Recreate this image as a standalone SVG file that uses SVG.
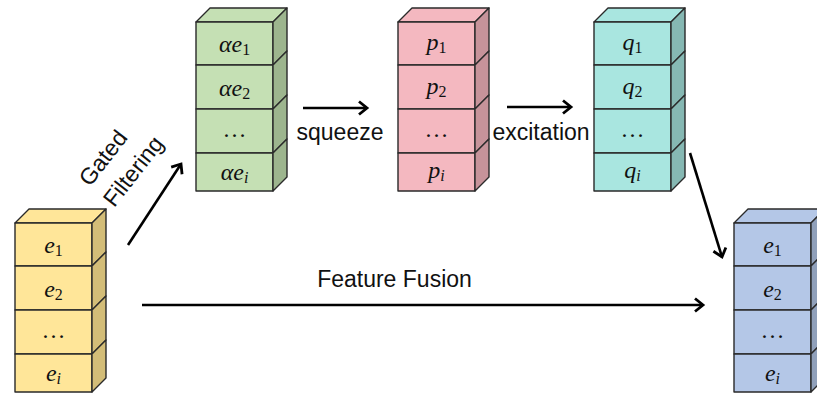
<svg xmlns="http://www.w3.org/2000/svg" width="817" height="394" viewBox="0 0 817 394">
<defs>
<style>
.ln{stroke:#2a2a2a;stroke-width:1.4;stroke-linejoin:round}
.m{font-family:"Liberation Serif","DejaVu Serif",serif;font-style:italic;font-size:24px;fill:#111;text-anchor:middle}
.sub{font-style:normal;font-size:16px}
.subi{font-style:italic;font-size:16px}
.lbl{font-family:"Liberation Sans",Arial,sans-serif;font-size:23px;fill:#111}
.conn{stroke:#000;stroke-width:2.6;fill:none}
.yel .f,.yel .t{fill:#FFE699}.yel .s{fill:#D3BD78}
.grn .f,.grn .t{fill:#C5E0B4}.grn .s{fill:#9DB58E}
.pnk .f,.pnk .t{fill:#F4B8C0}.pnk .s{fill:#C6939A}
.cyn .f,.cyn .t{fill:#A9E6E0}.cyn .s{fill:#86B8B3}
.blu .f,.blu .t{fill:#B4C7E7}.blu .s{fill:#90A0BA}
</style>
<marker id="ah" markerUnits="userSpaceOnUse" markerWidth="20" markerHeight="20" viewBox="-12 -10 16 20" refX="0" refY="0" orient="auto">
<path d="M-8,-6.5 L0,0 L-8,6.5" fill="none" stroke="#000" stroke-width="2.8" stroke-linejoin="miter"/>
</marker>
</defs>
<rect width="817" height="394" fill="#fff"/>

<g id="stack-e" class="yel" transform="translate(15,223)">
<polygon class="t ln" points="0,0 14,-14 91,-14 77,0"/>
<rect class="f ln" x="0" y="0" width="77" height="43"/>
<polygon class="s ln" points="77,0 91,-14 91,29 77,43"/>
<rect class="f ln" x="0" y="43" width="77" height="44"/>
<polygon class="s ln" points="77,43 91,29 91,73 77,87"/>
<rect class="f ln" x="0" y="87" width="77" height="44"/>
<polygon class="s ln" points="77,87 91,73 91,117 77,131"/>
<rect class="f ln" x="0" y="131" width="77" height="38"/>
<polygon class="s ln" points="77,131 91,117 91,155 77,169"/>
<text class="m" x="38.5" y="30">e<tspan class="sub" dy="3">1</tspan></text>
<text class="m" x="38.5" y="73.5">e<tspan class="sub" dy="3">2</tspan></text>
<text class="m" x="38.5" y="115" style="font-style:normal">…</text>
<text class="m" x="38.5" y="158">e<tspan class="subi" dy="3">i</tspan></text>
</g>

<g id="stack-ae" class="grn" transform="translate(196,22)">
<polygon class="t ln" points="0,0 14,-14 91,-14 77,0"/>
<rect class="f ln" x="0" y="0" width="77" height="43"/>
<polygon class="s ln" points="77,0 91,-14 91,29 77,43"/>
<rect class="f ln" x="0" y="43" width="77" height="44"/>
<polygon class="s ln" points="77,43 91,29 91,73 77,87"/>
<rect class="f ln" x="0" y="87" width="77" height="44"/>
<polygon class="s ln" points="77,87 91,73 91,117 77,131"/>
<rect class="f ln" x="0" y="131" width="77" height="38"/>
<polygon class="s ln" points="77,131 91,117 91,155 77,169"/>
<text class="m" x="38.5" y="30">αe<tspan class="sub" dy="3">1</tspan></text>
<text class="m" x="38.5" y="73.5">αe<tspan class="sub" dy="3">2</tspan></text>
<text class="m" x="38.5" y="115" style="font-style:normal">…</text>
<text class="m" x="38.5" y="158">αe<tspan class="subi" dy="3">i</tspan></text>
</g>

<g id="stack-p" class="pnk" transform="translate(398,22)">
<polygon class="t ln" points="0,0 14,-14 91,-14 77,0"/>
<rect class="f ln" x="0" y="0" width="77" height="43"/>
<polygon class="s ln" points="77,0 91,-14 91,29 77,43"/>
<rect class="f ln" x="0" y="43" width="77" height="44"/>
<polygon class="s ln" points="77,43 91,29 91,73 77,87"/>
<rect class="f ln" x="0" y="87" width="77" height="44"/>
<polygon class="s ln" points="77,87 91,73 91,117 77,131"/>
<rect class="f ln" x="0" y="131" width="77" height="38"/>
<polygon class="s ln" points="77,131 91,117 91,155 77,169"/>
<text class="m" x="38.5" y="28">p<tspan class="sub" dy="3">1</tspan></text>
<text class="m" x="38.5" y="71.5">p<tspan class="sub" dy="3">2</tspan></text>
<text class="m" x="38.5" y="115" style="font-style:normal">…</text>
<text class="m" x="38.5" y="156">p<tspan class="subi" dy="3">i</tspan></text>
</g>

<g id="stack-q" class="cyn" transform="translate(594,22)">
<polygon class="t ln" points="0,0 14,-14 91,-14 77,0"/>
<rect class="f ln" x="0" y="0" width="77" height="43"/>
<polygon class="s ln" points="77,0 91,-14 91,29 77,43"/>
<rect class="f ln" x="0" y="43" width="77" height="44"/>
<polygon class="s ln" points="77,43 91,29 91,73 77,87"/>
<rect class="f ln" x="0" y="87" width="77" height="44"/>
<polygon class="s ln" points="77,87 91,73 91,117 77,131"/>
<rect class="f ln" x="0" y="131" width="77" height="38"/>
<polygon class="s ln" points="77,131 91,117 91,155 77,169"/>
<text class="m" x="38.5" y="28">q<tspan class="sub" dy="3">1</tspan></text>
<text class="m" x="38.5" y="71.5">q<tspan class="sub" dy="3">2</tspan></text>
<text class="m" x="38.5" y="115" style="font-style:normal">…</text>
<text class="m" x="38.5" y="156">q<tspan class="subi" dy="3">i</tspan></text>
</g>

<g id="stack-out" class="blu" transform="translate(734,223)">
<polygon class="t ln" points="0,0 14,-14 91,-14 77,0"/>
<rect class="f ln" x="0" y="0" width="77" height="43"/>
<polygon class="s ln" points="77,0 91,-14 91,29 77,43"/>
<rect class="f ln" x="0" y="43" width="77" height="44"/>
<polygon class="s ln" points="77,43 91,29 91,73 77,87"/>
<rect class="f ln" x="0" y="87" width="77" height="44"/>
<polygon class="s ln" points="77,87 91,73 91,117 77,131"/>
<rect class="f ln" x="0" y="131" width="77" height="38"/>
<polygon class="s ln" points="77,131 91,117 91,155 77,169"/>
<text class="m" x="38.5" y="30">e<tspan class="sub" dy="3">1</tspan></text>
<text class="m" x="38.5" y="73.5">e<tspan class="sub" dy="3">2</tspan></text>
<text class="m" x="38.5" y="115" style="font-style:normal">…</text>
<text class="m" x="38.5" y="158">e<tspan class="subi" dy="3">i</tspan></text>
</g>

<g id="connectors">
<line class="conn" x1="128" y1="245" x2="181" y2="164" marker-end="url(#ah)"/>
<line class="conn" x1="303" y1="108" x2="367" y2="108" marker-end="url(#ah)"/>
<line class="conn" x1="507" y1="107" x2="571" y2="107" marker-end="url(#ah)"/>
<line class="conn" x1="690" y1="153" x2="722" y2="257" marker-end="url(#ah)"/>
<line class="conn" x1="142" y1="305" x2="703" y2="305" marker-end="url(#ah)"/>
<g transform="translate(118,164.5) rotate(-52)">
<text class="lbl" x="-4" y="-8" text-anchor="middle">Gated</text>
<text class="lbl" x="4" y="24" text-anchor="middle">Filtering</text>
</g>
<text class="lbl" x="340" y="140" text-anchor="middle">squeeze</text>
<text class="lbl" x="541" y="140" text-anchor="middle">excitation</text>
<text class="lbl" x="394.5" y="287" text-anchor="middle">Feature Fusion</text>
</g>
</svg>
